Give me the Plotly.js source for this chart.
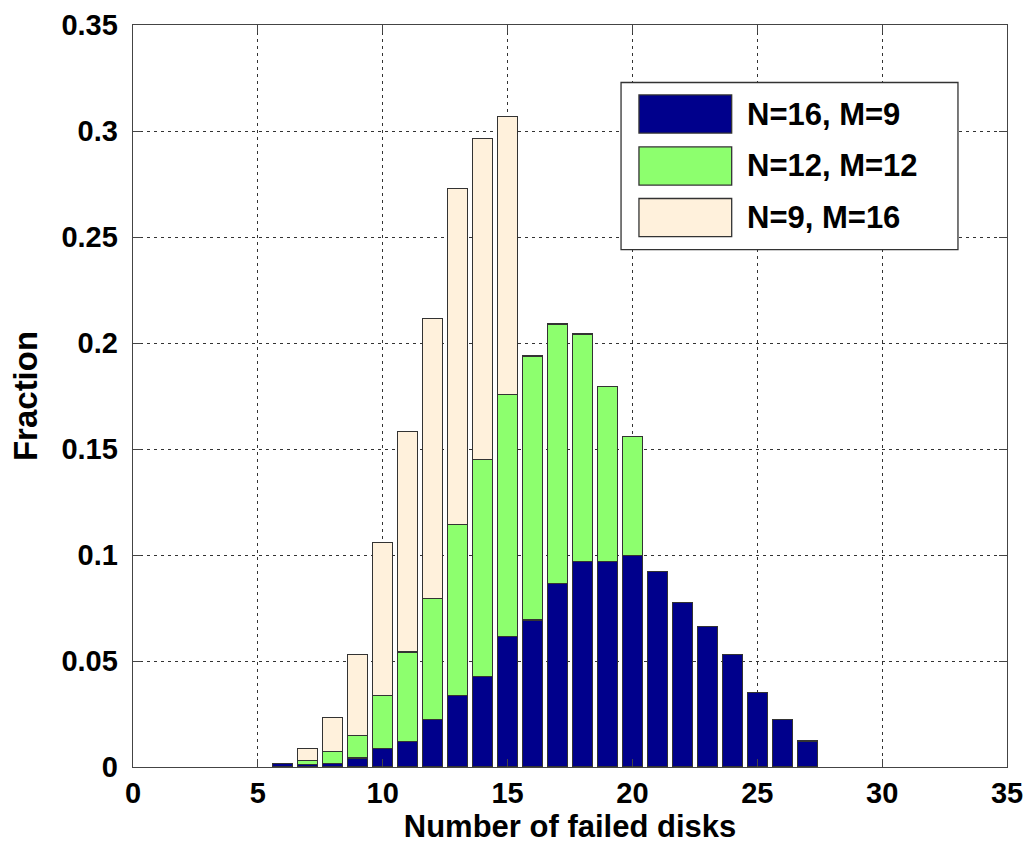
<!DOCTYPE html>
<html>
<head>
<meta charset="utf-8">
<script src="https://cdn.plot.ly/plotly-3.0.1.min.js"></script>
<style>
html,body{margin:0;padding:0;background:#fff;}
#chart{width:1030px;height:847px;}
</style>
</head>
<body>
<div id="chart"></div>
<script>
// Number of failed disks (x positions)
const disksBlue  = [6,7,8,9,10,11,12,13,14,15,16,17,18,19,20,21,22,23,24,25,26,27];
const disksGreen = [7,8,9,10,11,12,13,14,15,16,17,18,19,20];
const disksBeige = [7,8,9,10,11,12,13,14,15];

// Stacked segment values (fraction)
const n16m9  = [0.0016,0.0012,0.0018,0.0043,0.0086,0.0120,0.0224,0.0337,0.0428,0.0614,0.0693,0.0867,0.0969,0.0969,0.0999,0.0922,0.0777,0.0664,0.0531,0.0350,0.0224,0.0122];
const n12m12 = [0.0018,0.0054,0.0107,0.0250,0.0422,0.0572,0.0806,0.1022,0.1143,0.1245,0.1223,0.1074,0.0826,0.0561];
const n9m16  = [0.0056,0.0163,0.0380,0.0724,0.1042,0.1320,0.1586,0.1515,0.1310];

const seriesNames  = ['N=16, M=9', 'N=12, M=12', 'N=9, M=16'];
const seriesColors = ['#00008C', '#8DFF6E', '#FFF1DC'];
const xTickVals = [0,5,10,15,20,25,30,35];
const yTickVals = [0,0.05,0.1,0.15,0.2,0.25,0.3,0.35];
const yTickText = ['0','0.05','0.1','0.15','0.2','0.25','0.3','0.35'];

const FONT = '"Liberation Sans", Arial, sans-serif';
const edge = {color:'#333333', width:1.3};

const xs = [disksBlue, disksGreen, disksBeige];
const ys = [n16m9, n12m12, n9m16];
const traces = xs.map((x,i)=>({
  type:'bar', x:x, y:ys[i], name:seriesNames[i],
  marker:{color:seriesColors[i], line:edge},
  width:0.8, showlegend:false
}));

// Manual legend (large swatches like the original)
const shapes = [];
const annotations = [];
const lx0 = 0.5584, lx1 = 0.9439, ly0 = 0.6974, ly1 = 0.9225;
shapes.push({type:'rect', xref:'paper', yref:'paper', x0:lx0, x1:lx1, y0:ly0, y1:ly1,
  line:{color:'#333333', width:1.3}, fillcolor:'#ffffff', layer:'above'});
const rowY = [0.8800, 0.8100, 0.7405];
const swH = 0.0257;
seriesNames.forEach((nm,i)=>{
  shapes.push({type:'rect', xref:'paper', yref:'paper', x0:0.5789, x1:0.6850,
    y0:rowY[i]-swH, y1:rowY[i]+swH, fillcolor:seriesColors[i],
    line:{color:'#333333', width:1.3}, layer:'above'});
  annotations.push({xref:'paper', yref:'paper', x:0.7002, y:rowY[i], xanchor:'left', yanchor:'middle',
    text:nm, showarrow:false, font:{family:FONT, size:31, color:'#000', weight:'bold'}});
});

const layout = {
  width:1030, height:847,
  margin:{l:133, r:23, t:25, b:80, pad:0},
  paper_bgcolor:'#fff', plot_bgcolor:'#fff',
  barmode:'stack',
  font:{family:FONT, color:'#000'},
  xaxis:{
    range:[0,35], tickvals:xTickVals, ticktext:xTickVals.map(String),
    showline:true, linecolor:'#444', linewidth:1.3, mirror:'ticks',
    ticks:'inside', ticklen:8, tickcolor:'#444',
    showgrid:true, gridcolor:'#333', griddash:'3px,4px', gridwidth:1,
    zeroline:false,
    tickfont:{family:FONT, size:29, color:'#000', weight:'bold'},
    title:{text:'Number of failed disks', standoff:2, font:{family:FONT, size:31, color:'#000', weight:'bold'}},
    automargin:false
  },
  yaxis:{
    range:[0,0.35], tickvals:yTickVals, ticktext:yTickText,
    showline:true, linecolor:'#444', linewidth:1.3, mirror:'ticks',
    ticks:'inside', ticklen:8, tickcolor:'#444',
    showgrid:true, gridcolor:'#333', griddash:'3px,4px', gridwidth:1,
    zeroline:false, ticklabelstandoff:8,
    tickfont:{family:FONT, size:29, color:'#000', weight:'bold'},
    title:{text:'Fraction', standoff:14, font:{family:FONT, size:33, color:'#000', weight:'bold'}},
    automargin:false
  },
  shapes:shapes,
  annotations:annotations
};

Plotly.newPlot('chart', traces, layout, {displayModeBar:false, staticPlot:true});
</script>
</body>
</html>
